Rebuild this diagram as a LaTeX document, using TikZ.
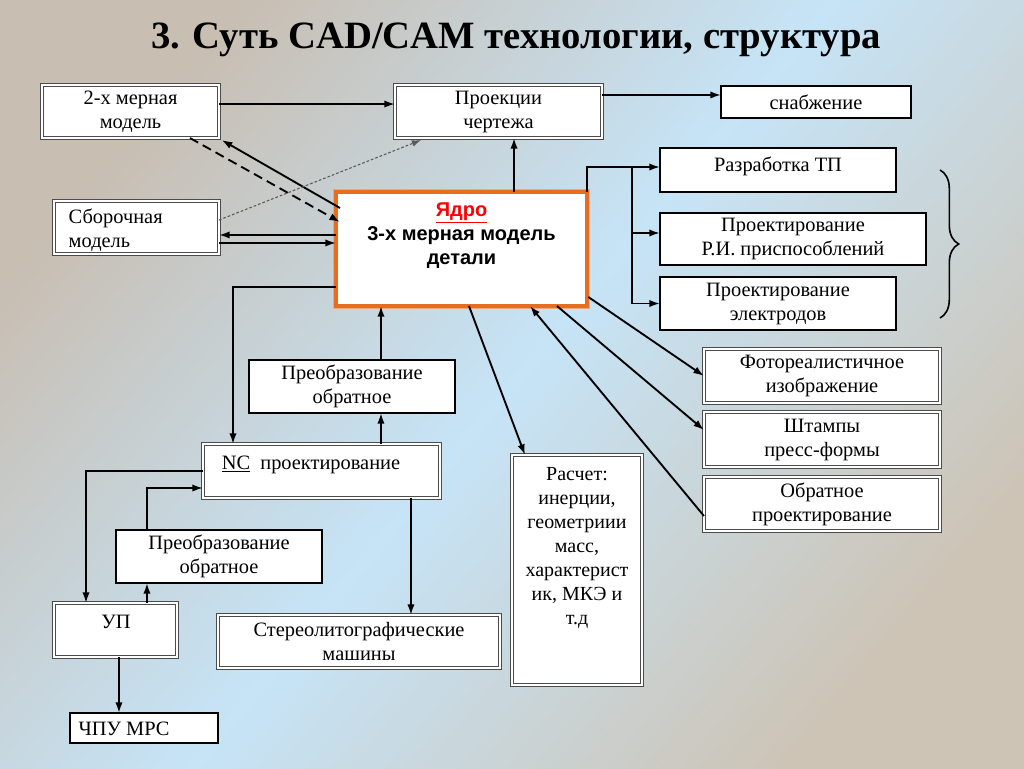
\documentclass[tikz,border=0pt]{standalone}
\usepackage{fontspec}
\setmainfont{Liberation Serif}
\newfontfamily\sansf{Liberation Sans}
\usetikzlibrary{arrows.meta,decorations.pathreplacing}
\definecolor{coreor}{RGB}{232,110,30}
\definecolor{bgL}{RGB}{200,190,178}
\definecolor{bgM}{RGB}{198,228,247}
\definecolor{bgR}{RGB}{205,196,182}
\begin{document}
\begin{tikzpicture}[x=0.75pt,y=-0.75pt,
  sz/.style 2 args={minimum width=#1*0.75pt, minimum height=#2*0.75pt, inner sep=0pt, outer sep=0pt},
  dbl/.style={draw=black!70, double=white, double distance=1.3pt, line width=0.7pt, fill=white},
  thk/.style={draw=black, line width=2pt, fill=white},
  txt/.style={font=\fontsize{15.3}{18}\selectfont, align=center},
  a/.style={-{Latex[length=8pt,width=5.5pt]}, line width=1.4pt},
  l/.style={line width=1.4pt}]
\useasboundingbox (0,0) rectangle (1024,768);
\shade[top color=bgL, bottom color=bgR, middle color=bgM, shading angle=50] (0,0) rectangle (1024,768);
\node[font=\fontsize{29}{34}\selectfont\bfseries] (title) at (516,40) {3. Суть CAD/CAM технологии, структура};
% boxes
\node[dbl, sz={177}{53}, txt] (d2) at (130.5,111.5) {2-х мерная\\модель};
\node[dbl, sz={207}{53}, txt] (proj) at (498.5,111.5) {Проекции\\чертежа};
\node[thk, sz={190}{32}, txt] (snab) at (816,102) {снабжение};
\node[dbl, sz={165}{53}] (sbor) at (136.5,227.5) {};
\node[txt, align=left, anchor=west] (sborT) at (64,230) {Сборочная\\модель};
\node[draw=coreor!60, line width=5pt, sz={251}{114}] (coreO) at (461.5,249) {};
\node[draw=coreor, fill=white, line width=3pt, sz={251}{114}] (core) at (461.5,249) {};
\node[font=\sansf\bfseries\fontsize{15}{18}\selectfont, align=center, anchor=north] (coreT) at (461.5,198) {\textcolor{red}{\underline{Ядро}}\\3-х мерная модель\\детали};
\node[thk, sz={236}{44}] (tp) at (778,170) {};
\node[txt, anchor=north] (tpT) at (778,152) {Разработка ТП};
\node[thk, sz={266}{52}, txt] (pri) at (793,239) {Проектирование\\Р.И. приспособлений};
\node[thk, sz={236}{53}, txt] (el) at (778,303.5) {Проектирование\\электродов};
\node[dbl, sz={236}{54}, txt] (foto) at (822,376) {Фотореалистичное\\изображение};
\node[dbl, sz={236}{55}, txt] (shtamp) at (822,439.5) {Штампы\\пресс-формы};
\node[dbl, sz={236}{54}, txt] (obr) at (822,504) {Обратное\\проектирование};
\node[thk, sz={206}{53}, txt] (preob1) at (352,386.5) {Преобразование\\обратное};
\node[dbl, sz={237}{54}] (nc) at (321.5,471) {};
\node[txt, anchor=north] (ncT) at (311,451) {\underline{NC}\ \ проектирование};
\node[thk, sz={206}{53}, txt] (preob2) at (219,556.5) {Преобразование\\обратное};
\node[dbl, sz={123}{54}] (up) at (115.5,630) {};
\node[txt, anchor=north] (upT) at (116,610) {УП};
\node[dbl, sz={282}{53}, txt] (stereo) at (359,641.5) {Стереолитографические\\машины};
\node[thk, sz={148}{30}] (chpu) at (144,728) {};
\node[txt, anchor=west] (chpuT) at (74,729) {ЧПУ МРС};
\node[dbl, sz={130}{230}] (rasch) at (577,570) {};
\node[txt, anchor=north, font=\fontsize{15}{18}\selectfont] (raschT) at (577,463) {Расчет:\\инерции,\\геометриии\\масс,\\характерист\\ик, МКЭ и\\т.д};
% connectors
\draw[a] ([yshift=5.6pt]d2.east) -- ([yshift=5.6pt]proj.west);
\draw[a] ([yshift=12.4pt]proj.east) -- ([yshift=12.4pt]proj.east -| snab.west);
\draw[a] ([xshift=39.4pt]core.north) -- ([xshift=39.4pt]core.north |- proj.south);
\draw[a] ([shift={(3pt,-12pt)}]core.north west) -- ([shift={(2pt,-1.5pt)}]d2.south east);
\draw[a, dashed, dash pattern=on 7pt off 4pt] ([xshift=44.6pt]d2.south) -- ([shift={(3pt,-22.5pt)}]core.north west);
\draw[-{Latex[length=7pt,width=5pt]}, line width=0.8pt, black!65, dash pattern=on 2pt off 1.5pt] ([yshift=5.6pt]sbor.east) -- ([shift={(-58pt,-1.5pt)}]proj.south);
\draw[a] ([yshift=-5.6pt]sbor.east -| core.west) -- ([yshift=-5.6pt]sbor.east);
\draw[a] ([yshift=-11.6pt]sbor.east) -- ([yshift=-11.6pt]sbor.east -| core.west);
\draw[a] ([yshift=-28.5pt]core.west) -| ([xshift=22.5pt]nc.north west);
\draw[a] ([xshift=21.75pt]preob1.north) -- ([xshift=21.75pt]preob1.north |- core.south);
\draw[a] ([xshift=44.6pt]nc.north) -- ([xshift=44.6pt]nc.north |- preob1.south);
\draw[a] (nc.west) -| ([xshift=24pt]up.north west);
\draw[a] ([xshift=23.6pt]up.north) -- ([xshift=23.6pt]up.north |- preob2.south);
\draw[a] ([xshift=23.6pt]up.north |- preob2.north) |- ([yshift=-12.75pt]nc.west);
\draw[a] ([xshift=67.1pt]nc.south) -- ([xshift=67.1pt]nc.south |- stereo.north);
\draw[a] ([xshift=2.6pt]up.south) -- ([xshift=2.6pt]up.south |- chpu.north);
\draw[a] ([xshift=5.6pt]core.south) -- ([xshift=-39pt]rasch.north);
\draw[l] ([yshift=19pt]core.north east) -- (core.north east);
\draw[a] (core.north east) |- ([yshift=2.25pt]tp.west);
\draw[a] ([xshift=-21pt,yshift=2.25pt]tp.west) |- ([yshift=4.5pt]pri.west);
\draw[a] ([xshift=-21pt,yshift=2.25pt]tp.west) |- (el.west);
\draw[a] ([shift={(1pt,6.75pt)}]core.south east) -- (foto.west);
\draw[a] ([xshift=71.6pt]core.south) -- ([yshift=7.1pt]shtamp.west);
\draw[a] ([yshift=-9pt]obr.west) -- ([xshift=51.4pt]core.south);
\draw[line width=1.2pt, decorate, decoration={brace, amplitude=14pt}] (940,170) -- (940,318);
\end{tikzpicture}
\end{document}
